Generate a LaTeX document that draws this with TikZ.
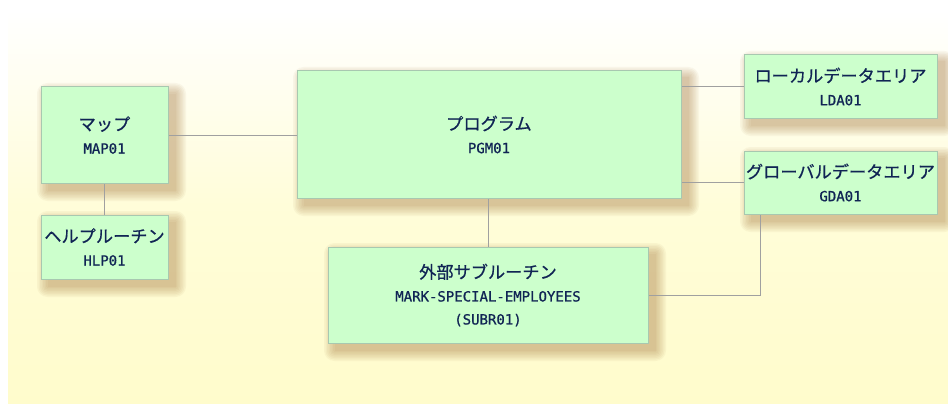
\documentclass[tikz,border=0pt]{standalone}
\usepackage{fontspec}
\newfontfamily\jpf[FakeBold=0.6]{Noto Sans CJK JP}
\newfontfamily\latf[FakeBold=0.8]{DejaVu Sans Mono}
\definecolor{boxfill}{RGB}{204,255,204}
\definecolor{boxline}{RGB}{168,200,176}
\definecolor{conn}{RGB}{160,160,160}
\definecolor{txt}{RGB}{16,36,84}
\definecolor{bgy}{RGB}{255,252,204}
\definecolor{shad}{RGB}{160,115,55}
\pgfdeclarelayer{bgl}
\pgfdeclarelayer{shl}
\pgfsetlayers{bgl,shl,main}
\tikzset{
  box/.style={draw=boxline, line width=1pt, fill=boxfill, inner sep=0pt,
    align=center, text=txt, font=\jpf\fontsize{17.2}{23}\selectfont},
  conn/.style={draw=conn, line width=1pt},
  shadowpiece/.style={fill=shad, fill opacity=0.06},
}
\newcommand{\lt}[1]{{\latf\fontsize{14}{23}\selectfont #1}}
\newcommand{\boxshadow}[1]{%
  \begin{pgfonlayer}{shl}
  \foreach \r in {0,1.5,...,10.5}{%
    \fill[shadowpiece, rounded corners=\r pt]
      ([xshift={(7-\r)*1pt}, yshift={(-7-\r)*1pt}]#1.south west) rectangle
      ([xshift={(7+\r)*1pt}, yshift={(-7+\r)*1pt}]#1.north east);
  }%
  \end{pgfonlayer}}
\begin{document}
\begin{tikzpicture}[x=1pt,y=-1pt]
\useasboundingbox (0,0) rectangle (948,404);
\begin{pgfonlayer}{bgl}
\fill[white] (0,0) rectangle (948,404);
\shade[top color=white, bottom color=bgy, middle color=bgy!75!white] (8,10) rectangle (948,403);
\end{pgfonlayer}
\node[box, minimum width=127pt, minimum height=96pt] (map) at (104.5,135) {マップ\\\lt{MAP01}};
\node[box, minimum width=127pt, minimum height=64pt] (hlp) at (104.5,247) {ヘルプルーチン\\\lt{HLP01}};
\node[box, minimum width=384pt, minimum height=127pt] (pgm) at (489,134.5) {プログラム\\\lt{PGM01}};
\node[box, minimum width=193pt, minimum height=63pt] (lda) at (840.5,86.5) {ローカルデータエリア\\\lt{LDA01}};
\node[box, minimum width=193pt, minimum height=63pt] (gda) at (840.5,182.5) {グローバルデータエリア\\\lt{GDA01}};
\node[box, minimum width=320pt, minimum height=96pt] (sub) at (488,295) {外部サブルーチン\\\lt{MARK-SPECIAL-EMPLOYEES}\\\lt{(SUBR01)}};
\boxshadow{map}
\boxshadow{hlp}
\boxshadow{pgm}
\boxshadow{lda}
\boxshadow{gda}
\boxshadow{sub}
\coordinate (corner) at ([xshift=17pt]gda.south west);
\begin{pgfonlayer}{shl}
\draw[conn] (map.east) -- (map.east -| pgm.west);
\draw[conn] (map.south) -- (hlp.north);
\draw[conn] (pgm.south -| sub.north) -- (sub.north);
\draw[conn] (lda.west) -- (lda.west -| pgm.east);
\draw[conn] (gda.west) -- (gda.west -| pgm.east);
\draw[conn] (sub.east) -| (corner);
\end{pgfonlayer}
\end{tikzpicture}
\end{document}
